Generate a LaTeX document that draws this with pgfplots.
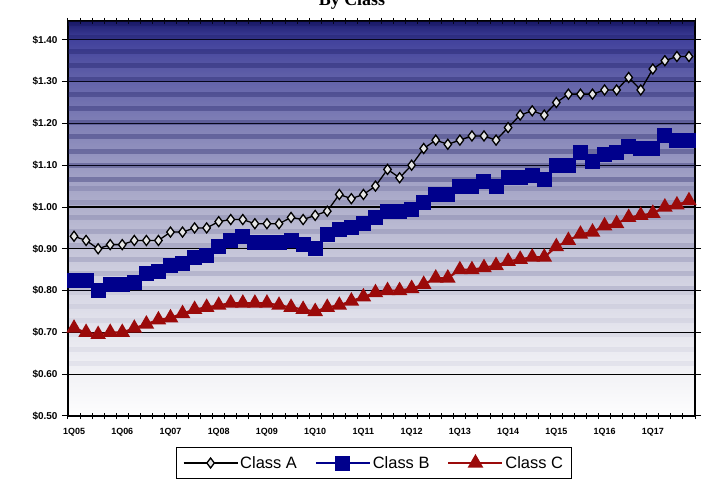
\documentclass[border=0pt]{standalone}
\usepackage{pgfplots}
\pgfplotsset{compat=1.18}
\usepackage{pgfplotstable}
\usepackage{fontspec}
\setmainfont{Liberation Sans}
\newfontfamily\titlefont{Liberation Serif}

\definecolor{classB}{RGB}{0,0,140}
\definecolor{classC}{RGB}{155,10,10}
\definecolor{bgA}{RGB}{254,254,254}
\definecolor{bgB}{RGB}{242,242,246}
\definecolor{bgC}{RGB}{230,230,238}
\definecolor{bgD}{RGB}{214,214,228}
\definecolor{bgE}{RGB}{196,196,216}
\definecolor{bgF}{RGB}{176,176,204}
\definecolor{bgG}{RGB}{154,154,194}
\definecolor{bgH}{RGB}{128,128,182}
\definecolor{bgI}{RGB}{100,100,170}
\definecolor{bgJ}{RGB}{66,66,156}
\definecolor{bgK}{RGB}{28,28,110}
\definecolor{band}{RGB}{20,20,90}

% vertical gradient of the plot area, $0.50 at 25bp up to the top at 75bp
\pgfdeclareverticalshading{plotbg}{100bp}{%
  color(0bp)=(bgA); color(25bp)=(bgA); color(30.3bp)=(bgB);
  color(35.6bp)=(bgC); color(40.9bp)=(bgD); color(46.2bp)=(bgE);
  color(51.5bp)=(bgF); color(56.7bp)=(bgG); color(62bp)=(bgH);
  color(67.3bp)=(bgI); color(72.6bp)=(bgJ); color(75bp)=(bgK);
  color(100bp)=(bgK)}

% quarterly values, 1Q05 (q=0) to 4Q17 (q=51)
\pgfplotstableread{
q A B C
0 0.93 0.825 0.71
1 0.92 0.825 0.70
2 0.90 0.80 0.695
3 0.91 0.815 0.70
4 0.91 0.815 0.70
5 0.92 0.82 0.71
6 0.92 0.84 0.72
7 0.92 0.845 0.73
8 0.94 0.86 0.735
9 0.94 0.865 0.745
10 0.95 0.88 0.755
11 0.95 0.885 0.76
12 0.965 0.905 0.765
13 0.97 0.92 0.77
14 0.97 0.93 0.77
15 0.96 0.915 0.77
16 0.96 0.915 0.77
17 0.96 0.915 0.765
18 0.975 0.92 0.76
19 0.97 0.91 0.755
20 0.98 0.90 0.75
21 0.99 0.935 0.76
22 1.03 0.945 0.765
23 1.02 0.95 0.775
24 1.03 0.96 0.785
25 1.05 0.975 0.795
26 1.09 0.99 0.80
27 1.07 0.99 0.80
28 1.10 0.995 0.805
29 1.14 1.01 0.815
30 1.16 1.03 0.83
31 1.15 1.03 0.83
32 1.16 1.05 0.85
33 1.17 1.05 0.85
34 1.17 1.06 0.855
35 1.16 1.05 0.86
36 1.19 1.07 0.87
37 1.22 1.07 0.875
38 1.23 1.075 0.88
39 1.22 1.065 0.88
40 1.25 1.10 0.905
41 1.27 1.10 0.92
42 1.27 1.13 0.935
43 1.27 1.11 0.94
44 1.28 1.125 0.955
45 1.28 1.13 0.96
46 1.31 1.145 0.975
47 1.28 1.14 0.98
48 1.33 1.14 0.985
49 1.35 1.17 1.00
50 1.36 1.16 1.005
51 1.36 1.16 1.015
}\classdata

\begin{document}
\begin{tikzpicture}
\begin{axis}[
  at={(68bp,64bp)}, anchor=south west,
  scale only axis, width=627bp, height=395bp,
  xmin=-0.5, xmax=51.5, ymin=0.5, ymax=1.445,
  axis background/.style={shading=plotbg},
  axis line style={black, line width=1.3bp},
  xtick={-0.5,0.5,...,51.5}, xticklabels={},
  xtick align=center,
  extra x ticks={0,4,...,48},
  extra x tick labels={1Q05,1Q06,1Q07,1Q08,1Q09,1Q10,1Q11,1Q12,1Q13,1Q14,1Q15,1Q16,1Q17},
  extra x tick style={major tick length=0pt, xticklabel style={yshift=-9bp}},
  xticklabel style={font=\bfseries\fontsize{9}{10}\selectfont},
  ytick={0.5,0.6,...,1.41},
  yticklabels={\$0.50,\$0.60,\$0.70,\$0.80,\$0.90,\$1.00,\$1.10,\$1.20,\$1.30,\$1.40},
  ytick align=outside,
  major tick length=6bp,
  tick style={black, line width=1bp},
  yticklabel style={font=\bfseries\fontsize{10}{11}\selectfont, xshift=-1bp},
  ymajorgrids,
  grid style={black, line width=1.2bp},
  legend style={at={(0.488,-0.078)}, anchor=north, legend columns=3,
    draw=black, line width=1bp, fill=white,
    font=\fontsize{16.5}{18}\selectfont, inner xsep=6bp, inner ysep=7bp,
    /tikz/every even column/.append style={column sep=16bp}},
  legend image code/.code={%
    \draw[mark repeat=2, mark phase=2] plot coordinates {(0bp,0bp) (27bp,0bp) (54bp,0bp)};},
]
% banding of the gradient fill, strongest near the top
\pgfplotsinvokeforeach{1.06,1.094,...,1.44}{
  \fill[band, opacity=0.30] (axis cs:-0.5,#1) rectangle ++(627bp,5bp);}
\pgfplotsinvokeforeach{0.80,0.834,...,1.04}{
  \fill[band, opacity=0.13] (axis cs:-0.5,#1) rectangle ++(627bp,5bp);}
\pgfplotsinvokeforeach{0.62,0.654,...,0.79}{
  \fill[band, opacity=0.05] (axis cs:-0.5,#1) rectangle ++(627bp,5bp);}
\addplot[black, line width=1.3bp, mark=diamond*, mark size=5bp,
  mark options={fill=white!90!black, draw=black, line width=1.3bp}]
  table[x=q, y=A] {\classdata};
\addlegendentry{Class A}
\addplot[classB, line width=2bp, mark=square*, mark size=6.5bp,
  mark options={fill=classB, draw=classB}]
  table[x=q, y=B] {\classdata};
\addlegendentry{Class B}
\addplot[classC, line width=2bp, mark=triangle*, mark size=7bp,
  mark options={fill=classC, draw=classC}]
  table[x=q, y=C] {\classdata};
\addlegendentry{Class C}
\end{axis}
\node[font=\titlefont\bfseries\fontsize{18}{20}\selectfont, anchor=base] at (352bp,474bp) {By Class};
\pgfresetboundingbox
\path[use as bounding box] (0,0) rectangle (703bp,480bp);
\end{tikzpicture}
\end{document}
